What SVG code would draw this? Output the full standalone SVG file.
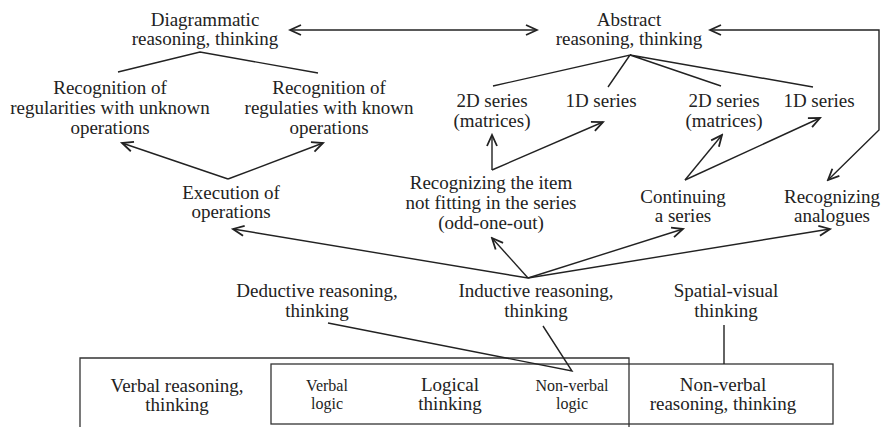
<svg xmlns="http://www.w3.org/2000/svg" width="883" height="427" viewBox="0 0 883 427">
<style>
text{font-family:'Liberation Serif','Times New Roman','DejaVu Serif',serif;font-size:19px;fill:#222;text-anchor:middle}
text.s{font-size:16px}
.ln{stroke:#222;stroke-width:1.4;fill:none}
.ar{stroke:#222;stroke-width:1.4;fill:none;marker-end:url(#ah)}
.box{stroke:#333;stroke-width:1.3;fill:none}
</style>
<defs>
<marker id="ah" viewBox="-13 -7 15 14" refX="0" refY="0" markerWidth="15" markerHeight="14" markerUnits="userSpaceOnUse" orient="auto-start-reverse">
<path d="M-11,-5 L0,0 L-11,5" fill="none" stroke="#222" stroke-width="1.8"/>
</marker>
</defs>
<rect width="883" height="427" fill="#fff"/>

<g id="boxes">
<path class="box" d="M80,432 V358 H629 V432"/>
<rect class="box" x="271" y="364" width="562" height="60"/>
</g>

<g id="connectors">
<path class="ar" d="M537,30 H290" marker-start="url(#ah)"/>
<path class="ar" d="M710,30 H879 V130 L828,180" marker-start="url(#ah)"/>
<path class="ln" d="M118,72 L200,52 L318,73"/>
<path class="ln" d="M493,86 L630,55 L608,87 M630,55 L721,86 M630,55 L813,87"/>
<path class="ar" d="M228,179 L122,143"/>
<path class="ar" d="M228,179 L323,143"/>
<path class="ar" d="M492,170 L492,135"/>
<path class="ar" d="M492,170 L603,122"/>
<path class="ar" d="M685,180 L722,135"/>
<path class="ar" d="M685,180 L820,118"/>
<path class="ar" d="M528,278 L233,229"/>
<path class="ar" d="M528,278 L492,238"/>
<path class="ar" d="M528,278 L683,229"/>
<path class="ar" d="M528,278 L830,229"/>
<path class="ln" d="M328,323 L572,371 L543,326"/>
<path class="ln" d="M724,325 V364"/>
</g>

<g id="diagrammatic"><text x="205" y="26">Diagrammatic</text><text x="205" y="45">reasoning, thinking</text></g>
<g id="abstract"><text x="629" y="26">Abstract</text><text x="629" y="45">reasoning, thinking</text></g>
<g id="rec-unknown"><text x="110" y="94">Recognition of</text><text x="110" y="114">regularities with unknown</text><text x="110" y="134">operations</text></g>
<g id="rec-known"><text x="329" y="94">Recognition of</text><text x="329" y="114">regulaties with known</text><text x="329" y="134">operations</text></g>
<g id="series2d-a"><text x="492" y="107">2D series</text><text x="492" y="127">(matrices)</text></g>
<g id="series1d-a"><text x="601" y="107">1D series</text></g>
<g id="series2d-b"><text x="724" y="107">2D series</text><text x="724" y="127">(matrices)</text></g>
<g id="series1d-b"><text x="819" y="107">1D series</text></g>
<g id="execution"><text x="231" y="199">Execution of</text><text x="231" y="218">operations</text></g>
<g id="odd-one-out"><text x="491" y="189">Recognizing the item</text><text x="491" y="209">not fitting in the series</text><text x="491" y="229">(odd-one-out)</text></g>
<g id="continuing"><text x="683" y="203">Continuing</text><text x="683" y="222">a series</text></g>
<g id="analogues"><text x="832" y="203">Recognizing</text><text x="832" y="222">analogues</text></g>
<g id="deductive"><text x="317" y="297">Deductive reasoning,</text><text x="317" y="317">thinking</text></g>
<g id="inductive"><text x="536" y="297">Inductive reasoning,</text><text x="536" y="317">thinking</text></g>
<g id="spatial"><text x="726" y="297">Spatial-visual</text><text x="726" y="317">thinking</text></g>
<g id="verbal-reasoning"><text x="177" y="392">Verbal reasoning,</text><text x="177" y="411">thinking</text></g>
<g id="verbal-logic"><text class="s" x="327" y="391">Verbal</text><text class="s" x="327" y="409">logic</text></g>
<g id="logical-thinking"><text x="450" y="391">Logical</text><text x="450" y="410">thinking</text></g>
<g id="nonverbal-logic"><text class="s" x="572" y="391">Non-verbal</text><text class="s" x="572" y="409">logic</text></g>
<g id="nonverbal-reasoning"><text x="723" y="391">Non-verbal</text><text x="723" y="410">reasoning, thinking</text></g>
</svg>
